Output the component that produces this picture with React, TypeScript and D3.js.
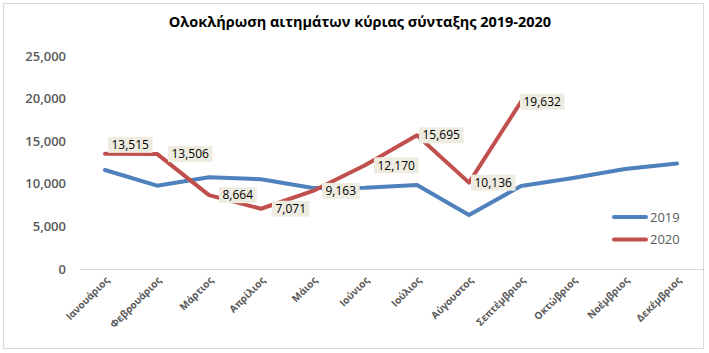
import React, { useEffect, useRef } from "react";
import * as d3 from "d3";

const months = ["Ιανουάριος","Φεβρουάριος","Μάρτιος","Απρίλιος","Μάιος","Ιούνιος","Ιούλιος","Αύγουστος","Σεπτέμβριος","Οκτώβριος","Νοέμβριος","Δεκέμβριος"];
const values2019 = [11620, 9780, 10760, 10530, 9500, 9540, 9860, 6340, 9740, 10680, 11740, 12380];
const values2020 = [13515, 13506, 8664, 7071, 9163, 12170, 15695, 10136, 19632];
const yTicks = [0, 5000, 10000, 15000, 20000, 25000];
const seriesNames = ["2019", "2020"];
const title = "Ολοκλήρωση αιτημάτων κύριας σύνταξης 2019-2020";

// label placement tweaks (style, not data)
const labelDx = [3, 11, 10, 11, 9, 9, 2, 2, -1];
const labelAbove = [true, false, false, false, false, false, false, false, false];

const W = 709, H = 353;
const colors = ["#4F81BD", "#C0504D"];

export default function App() {
  const ref = useRef<SVGSVGElement>(null);
  useEffect(() => {
    const svg = d3.select(ref.current);
    svg.selectAll("*").remove();
    const font = "'Open Sans', sans-serif";

    svg.append("rect").attr("x", 3.5).attr("y", 3.5).attr("width", 700).attr("height", 345)
      .attr("fill", "#fff").attr("stroke", "#d9d9d9");

    svg.append("text").attr("x", 360).attr("y", 27).attr("text-anchor", "middle")
      .attr("font-family", font).attr("font-weight", 700).attr("font-size", 14.5)
      .attr("fill", "#000").text(title);

    const x = d3.scalePoint<string>().domain(months).range([105, 677]);
    const y = d3.scaleLinear().domain([0, 25000]).range([269, 56]);

    // y axis labels
    svg.append("g").selectAll("text").data(yTicks).join("text")
      .attr("x", 66).attr("y", d => y(d)).attr("dy", "0.35em").attr("text-anchor", "end")
      .attr("font-family", font).attr("font-weight", 600).attr("font-size", 13).attr("fill", "#595959")
      .text(d => d3.format(",")(d));

    // x axis line
    svg.append("line").attr("x1", 80).attr("x2", 703).attr("y1", 269.5).attr("y2", 269.5)
      .attr("stroke", "#d9d9d9").attr("stroke-width", 1);

    // x labels
    svg.append("g").selectAll("text").data(months).join("text")
      .attr("transform", d => `translate(${(x(d) as number) + 5},${281}) rotate(-45)`)
      .attr("text-anchor", "end").attr("font-family", font).attr("font-weight", 700)
      .attr("font-size", 10).attr("fill", "#595959").text(d => d);

    const line = d3.line<number>().x((_, i) => x(months[i]) as number).y(d => y(d));
    [values2019, values2020].forEach((vals, s) => {
      svg.append("path").datum(vals).attr("d", line).attr("fill", "none")
        .attr("stroke", colors[s]).attr("stroke-width", 4).attr("stroke-linejoin", "round")
        .attr("stroke-linecap", "round");
    });

    // data labels for 2020
    const lg = svg.append("g");
    values2020.forEach((v, i) => {
      const px = x(months[i]) as number;
      const py = y(v);
      const g = lg.append("g");
      const rect = g.append("rect").attr("fill", "#EEECE1");
      const t = g.append("text").attr("font-family", font).attr("font-size", 12)
        .attr("font-weight", 500).attr("fill", "#000").text(d3.format(",")(v));
      const bb = (t.node() as SVGTextElement).getBBox();
      const bw = bb.width + 7, bh = 16;
      const bx = px + labelDx[i];
      const by = labelAbove[i] ? py - 1 - bh : py - bh / 2;
      rect.attr("x", bx).attr("y", by).attr("width", bw).attr("height", bh);
      t.attr("x", bx + 3.5).attr("y", by + bh / 2).attr("dy", "0.35em");
    });

    // legend
    const leg = svg.append("g");
    seriesNames.forEach((n, i) => {
      const ly = 217 + i * 22.5;
      leg.append("line").attr("x1", 614).attr("x2", 646).attr("y1", ly).attr("y2", ly)
        .attr("stroke", colors[i]).attr("stroke-width", 4).attr("stroke-linecap", "round");
      leg.append("text").attr("x", 650).attr("y", ly).attr("dy", "0.35em")
        .attr("font-family", font).attr("font-size", 13).attr("fill", "#595959").text(n);
    });
  }, []);
  return (
    <svg ref={ref} width={W} height={H} style={{ position: "absolute", left: 0, top: 0, display: "block" }} />
  );
}
